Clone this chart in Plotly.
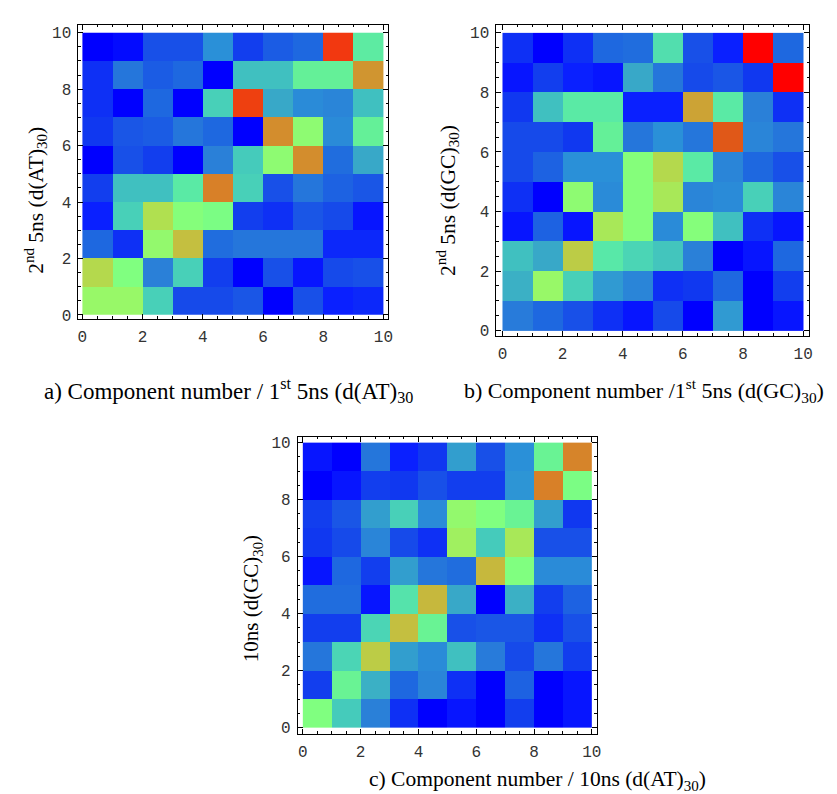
import plotly.graph_objects as go

# values: rows listed from top (y=9) to bottom (y=0), columns x=0..9
panel_a = [
    [0.00, 0.01, 0.10, 0.10, 0.22, 0.07, 0.12, 0.14, 0.88, 0.40],
    [0.05, 0.17, 0.12, 0.14, 0.00, 0.30, 0.30, 0.43, 0.43, 0.68],
    [0.05, 0.00, 0.14, 0.00, 0.33, 0.86, 0.27, 0.21, 0.20, 0.30],
    [0.06, 0.11, 0.12, 0.17, 0.14, 0.00, 0.70, 0.52, 0.21, 0.43],
    [0.00, 0.10, 0.07, 0.00, 0.19, 0.32, 0.52, 0.70, 0.15, 0.27],
    [0.07, 0.30, 0.30, 0.39, 0.73, 0.33, 0.10, 0.17, 0.13, 0.11],
    [0.03, 0.33, 0.57, 0.50, 0.48, 0.07, 0.05, 0.11, 0.09, 0.02],
    [0.14, 0.05, 0.53, 0.62, 0.15, 0.17, 0.17, 0.17, 0.04, 0.04],
    [0.58, 0.49, 0.19, 0.33, 0.07, 0.00, 0.10, 0.02, 0.09, 0.10],
    [0.54, 0.54, 0.33, 0.09, 0.09, 0.11, 0.00, 0.10, 0.03, 0.04],
]
panel_b = [
    [0.05, 0.00, 0.05, 0.14, 0.15, 0.36, 0.10, 0.03, 1.00, 0.14],
    [0.02, 0.07, 0.03, 0.02, 0.27, 0.17, 0.09, 0.11, 0.06, 1.00],
    [0.06, 0.30, 0.39, 0.39, 0.03, 0.03, 0.66, 0.39, 0.19, 0.05],
    [0.09, 0.09, 0.06, 0.43, 0.17, 0.22, 0.17, 0.80, 0.20, 0.17],
    [0.09, 0.13, 0.22, 0.22, 0.50, 0.58, 0.39, 0.20, 0.14, 0.10],
    [0.05, 0.00, 0.52, 0.21, 0.50, 0.56, 0.20, 0.21, 0.33, 0.20],
    [0.02, 0.13, 0.02, 0.56, 0.50, 0.21, 0.50, 0.30, 0.05, 0.02],
    [0.30, 0.27, 0.60, 0.38, 0.34, 0.31, 0.19, 0.00, 0.02, 0.14],
    [0.28, 0.54, 0.33, 0.24, 0.20, 0.05, 0.06, 0.14, 0.00, 0.07],
    [0.18, 0.14, 0.10, 0.05, 0.02, 0.09, 0.00, 0.24, 0.00, 0.02],
]
panel_c = [
    [0.02, 0.00, 0.17, 0.03, 0.06, 0.25, 0.10, 0.22, 0.44, 0.72],
    [0.00, 0.02, 0.07, 0.06, 0.10, 0.07, 0.07, 0.23, 0.73, 0.48],
    [0.07, 0.11, 0.25, 0.33, 0.21, 0.53, 0.49, 0.44, 0.25, 0.06],
    [0.06, 0.09, 0.20, 0.09, 0.05, 0.55, 0.32, 0.56, 0.10, 0.10],
    [0.02, 0.14, 0.07, 0.25, 0.17, 0.15, 0.63, 0.49, 0.21, 0.21],
    [0.15, 0.15, 0.02, 0.37, 0.63, 0.27, 0.00, 0.28, 0.07, 0.13],
    [0.07, 0.07, 0.34, 0.62, 0.44, 0.10, 0.11, 0.11, 0.05, 0.10],
    [0.17, 0.34, 0.60, 0.25, 0.21, 0.30, 0.18, 0.09, 0.17, 0.07],
    [0.07, 0.44, 0.28, 0.14, 0.20, 0.05, 0.00, 0.13, 0.00, 0.02],
    [0.49, 0.32, 0.19, 0.05, 0.00, 0.02, 0.00, 0.07, 0.00, 0.02],
]
centers = [0.5, 1.5, 2.5, 3.5, 4.5, 5.5, 6.5, 7.5, 8.5, 9.5]
tick_vals = [0, 2, 4, 6, 8, 10]
tick_text = ["0", "2", "4", "6", "8", "10"]

y_titles = [
    "2<sup>nd</sup> 5ns (d(AT)<sub>30</sub>)",
    "2<sup>nd</sup> 5ns (d(GC)<sub>30</sub>)",
    "10ns (d(GC)<sub>30</sub>)",
]
captions = [
    "a) Component number / 1<sup>st</sup> 5ns (d(AT)<sub>30</sub>",
    "b) Component number /1<sup>st</sup> 5ns (d(GC)<sub>30</sub>)",
    "c) Component number / 10ns (d(AT)<sub>30</sub>)",
]

colorscale = [
    [0.00, "#0000FF"], [0.03, "#0A20FF"], [0.06, "#1038F0"], [0.10, "#1850E8"],
    [0.14, "#1E68E0"], [0.19, "#2A80D8"], [0.22, "#2A90D8"], [0.27, "#38A8C8"],
    [0.30, "#40C0C0"], [0.33, "#48D0B8"], [0.38, "#58E8A8"], [0.43, "#64F098"],
    [0.49, "#80FF80"], [0.54, "#98F868"], [0.57, "#B0E050"], [0.62, "#C4BF40"],
    [0.68, "#D09530"], [0.73, "#D88028"], [0.80, "#E05818"], [0.86, "#EE4010"],
    [0.90, "#F53010"], [1.00, "#FF0000"],
]

W, H = 837, 794
# pixel geometry for each panel: frame (x0, x1, y0, y1) and axis ranges
geom = [
    dict(fx=(70, 382), fy=(16, 313), xr=(-0.13, 10.16), yr=(-0.14, 10.28)),
    dict(fx=(491, 806), fy=(16, 330), xr=(-0.20, 10.20), yr=(-0.17, 10.27)),
    dict(fx=(291, 592), fy=(432, 732), xr=(-0.17, 10.17), yr=(-0.21, 10.21)),
]
ytitle_pos = [(27, 193), (442, 193), (245, 596)]
ytitle_size = [21.5, 21.5, 21]
caption_pos = [(221, 385), (640, 385), (532, 779)]
caption_size = [23, 22, 21.5]

fig = go.Figure()
panels = [panel_a, panel_b, panel_c]
tickfont = dict(family="Liberation Mono", size=16, color="#333")
for i, data in enumerate(panels):
    sfx = "" if i == 0 else str(i + 1)
    z = data[::-1]
    fig.add_trace(go.Heatmap(
        z=z, x=centers, y=centers, colorscale=colorscale, zmin=0, zmax=1,
        showscale=False, xaxis="x" + sfx, yaxis="y" + sfx, hoverinfo="z",
    ))
    g = geom[i]
    common = dict(
        showline=True, linecolor="black", linewidth=1, mirror="ticks",
        ticks="inside", ticklen=5, tickcolor="black", showgrid=False,
        zeroline=False, tickvals=tick_vals, ticktext=tick_text,
        tickfont=tickfont, ticklabelstandoff=3,
        minor=dict(dtick=0.5, ticks="inside", ticklen=2.5, tickcolor="black", showgrid=False),
    )
    fig.layout["xaxis" + sfx] = dict(
        common, domain=[g["fx"][0] / W, g["fx"][1] / W], range=list(g["xr"]),
        anchor="y" + sfx,
    )
    fig.layout["yaxis" + sfx] = dict(
        common, domain=[1 - g["fy"][1] / H, 1 - g["fy"][0] / H], range=list(g["yr"]),
        anchor="x" + sfx,
    )

for i in range(3):
    px, py = ytitle_pos[i]
    fig.add_annotation(text=y_titles[i], x=px / W, y=1 - py / H, xref="paper", yref="paper",
                       showarrow=False, textangle=-90,
                       font=dict(family="Liberation Serif", size=ytitle_size[i], color="black"),
                       xanchor="center", yanchor="middle")
    cx, cy = caption_pos[i]
    fig.add_annotation(text=captions[i], x=cx / W, y=1 - cy / H, xref="paper", yref="paper",
                       showarrow=False,
                       font=dict(family="Liberation Serif", size=caption_size[i], color="black"),
                       xanchor="center", yanchor="middle")

fig.update_layout(
    width=W, height=H, margin=dict(l=0, r=0, t=0, b=0),
    paper_bgcolor="white", plot_bgcolor="white", showlegend=False,
)
fig.write_html("out.html")
